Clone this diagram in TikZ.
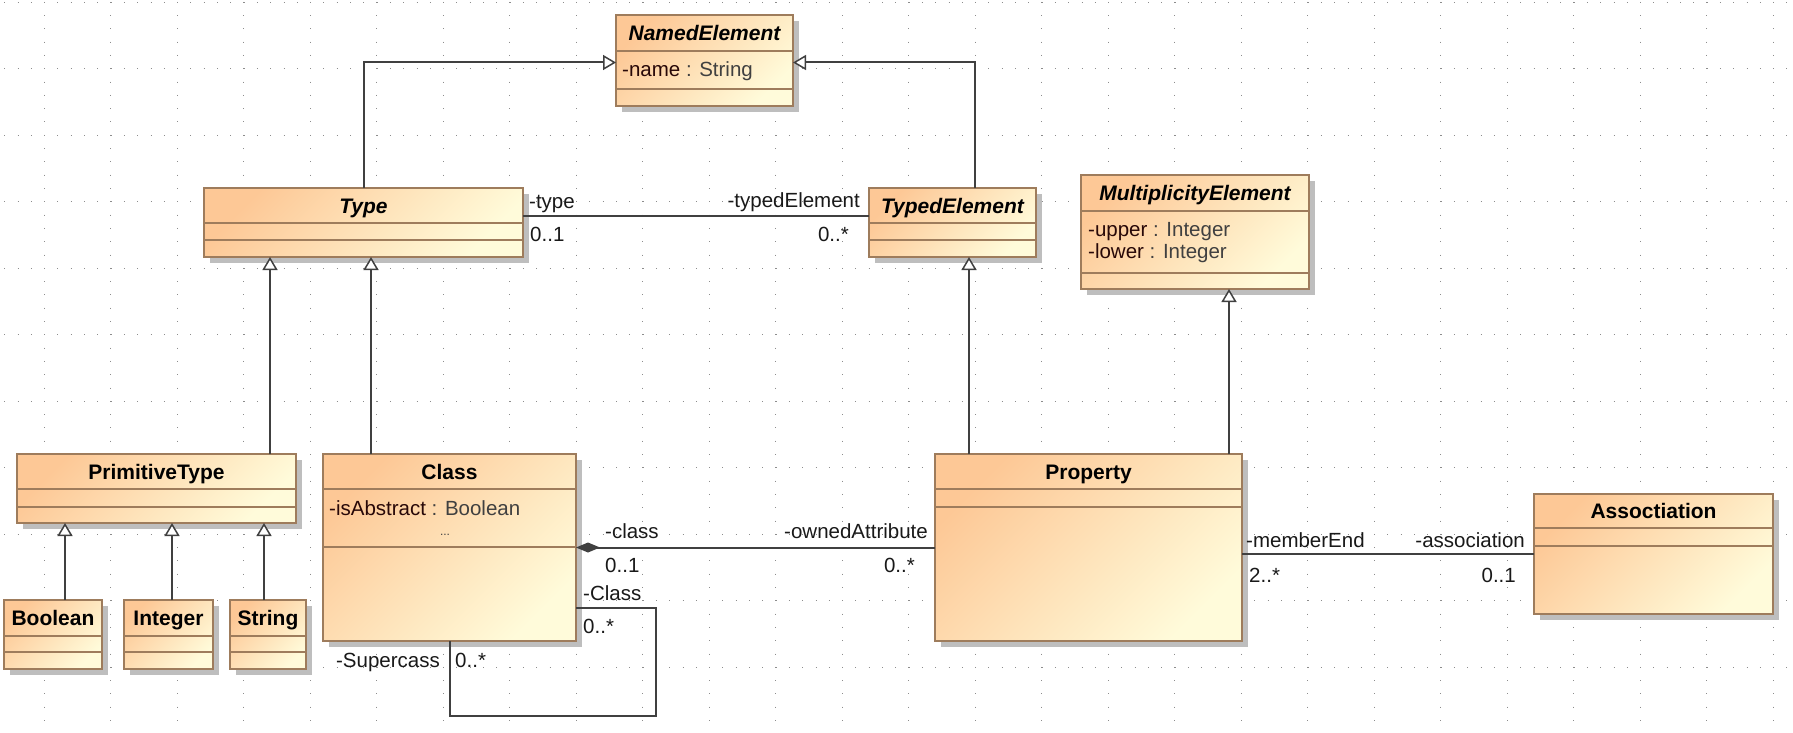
\documentclass[tikz,border=0pt]{standalone}
\usepackage{fontspec}
\setmainfont{Liberation Sans}
\usepackage{xcolor}
\usepackage{tikz}
\usetikzlibrary{arrows.meta, shadows}
\definecolor{umlorange}{RGB}{253, 200, 150}
\definecolor{umlmid}{RGB}{254, 228, 188}
\definecolor{umlyellow}{RGB}{255, 251, 218}
\definecolor{umlborder}{RGB}{158, 124, 92}
\definecolor{shadowgray}{RGB}{190, 190, 190}
\definecolor{linegray}{RGB}{64, 64, 64}
\definecolor{attrgray}{RGB}{64, 64, 64}
\definecolor{attrname}{RGB}{40, 8, 8}

\begin{document}
\begin{tikzpicture}[x=1pt, y=-1pt,
    umlbox/.style={draw=umlborder, line width=2pt, anchor=north west, inner sep=0pt, outer sep=0pt,
        top color=umlorange, middle color=umlmid, bottom color=umlyellow, shading angle=45,
        general shadow={fill=shadowgray, shadow xshift=6pt, shadow yshift=-6pt}},
    umlsep/.style={draw=umlborder, line width=2pt},
    umltitle/.style={anchor=base, inner sep=0pt, font=\fontsize{21}{25}\selectfont\bfseries},
    umlattr/.style={anchor=base west, inner sep=0pt, text=attrname, font=\fontsize{20.5}{24}\selectfont},
    rolelabel/.style={inner sep=0pt, text=black!90, font=\fontsize{20.5}{24}\selectfont},
    conn/.style={draw=linegray, line width=2pt},
    gen/.style={conn, -{Triangle[length=13pt, width=15pt, fill=white, line width=1.5pt]}},
    griddot/.style={draw=black!45, line width=1pt, dash pattern=on 1pt off 12.3pt}]

    % 背景网格
    \fill[white] (0,0) rectangle (1793,733);
    \useasboundingbox (0,0) rectangle (1793,733);
    \foreach \k in {0,...,10}
        \draw[griddot] (4.2,{2.3+66.5*\k}) -- (1793,{2.3+66.5*\k});
    \foreach \k in {0,...,26}
        \draw[griddot] ({44.3+66.5*\k},1.8) -- ({44.3+66.5*\k},733);

    % 定义类框
    \def\umlclass#1#2#3#4#5#6#7#8{
        \node[umlbox, minimum width=#4, minimum height=#5] (#1) at (#2,#3) {};
        \draw[umlsep] (#2,#6) -- ++(#4,0) (#2,#7) -- ++(#4,0);
        \node[umltitle] (#1-title) at ({#2+#4/2},{(#3+#6)/2+7.5}) {#8};
    }

    % 类
    \umlclass{named}{616}{15}{177}{91}{51}{89}{\itshape NamedElement}
    \umlclass{type}{204}{188}{319}{69}{223}{240}{\itshape Type}
    \umlclass{typed}{869}{188}{167}{69}{223}{240}{\itshape TypedElement}
    \umlclass{mult}{1081}{175}{228}{114}{211}{273}{\itshape MultiplicityElement}
    \umlclass{prim}{17}{454}{279}{69}{489}{507}{PrimitiveType}
    \umlclass{cls}{323}{454}{253}{187}{489}{547}{Class}
    \umlclass{prop}{935}{454}{307}{187}{489}{507}{Property}
    \umlclass{assoc}{1534}{494}{239}{120}{528}{546}{Assoctiation}
    \umlclass{bool}{4}{600}{98}{69}{636}{652}{Boolean}
    \umlclass{int}{124}{600}{89}{69}{636}{652}{Integer}
    \umlclass{str}{230}{600}{76}{69}{636}{652}{String}

    % 属性
    \node[umlattr] (named-attr) at (622,77) {-name \textcolor{attrgray}{: String}};
    \node[umlattr] (cls-attr) at (329,515) {-isAbstract \textcolor{attrgray}{: Boolean}};
    \node[anchor=base, inner sep=0pt, text=attrgray, font=\fontsize{12}{14}\selectfont] (cls-more) at (445,535) {...};
    \node[umlattr] (mult-upper) at (1088,236) {-upper \textcolor{attrgray}{: Integer}};
    \node[umlattr] (mult-lower) at (1088,258) {-lower \textcolor{attrgray}{: Integer}};

    % 泛化
    \draw[gen] (type.north) |- ([yshift=-2pt]named.west);
    \draw[gen] ([xshift=22.5pt]typed.north) |- ([yshift=-2pt]named.east);
    \draw[gen] ([xshift=113.5pt]prim.north) -- ([xshift=113.5pt]prim.north |- type.south);
    \draw[gen] ([xshift=-78.5pt]cls.north) -- ([xshift=-78.5pt]cls.north |- type.south);
    \draw[gen] ([xshift=-119.5pt]prop.north) -- ([xshift=-119.5pt]prop.north |- typed.south);
    \draw[gen] ([xshift=140.5pt]prop.north) -- ([xshift=140.5pt]prop.north |- mult.south);
    \foreach \n/\dx in {bool/12, int/3.5, str/-4}
        \draw[gen] ([xshift=\dx pt]\n.north) -- ([xshift=\dx pt]\n.north |- prim.south);

    % 关联
    \draw[conn] ([yshift=7pt]type.east) -- ([yshift=7pt]typed.west);
    \draw[conn, {Diamond[length=24pt, width=10pt]}-] (cls.east) -- (prop.west);
    \draw[conn] (prop.east |- assoc.west) -- (assoc.west);
    \draw[conn] ([yshift=-60.5pt]cls.east) -| ++(80,108) -| (cls.south);

    % 角色与多重性
    \node[rolelabel, anchor=base west] (type-role) at (529,208) {-type};
    \node[rolelabel, anchor=base west] (type-mult) at (530,241) {0..1};
    \node[rolelabel, anchor=base east] (typed-role) at (860,207) {-typedElement};
    \node[rolelabel, anchor=base east] (typed-mult) at (849,241) {0..*};
    \node[rolelabel, anchor=base west] (cls-role) at (605,538) {-class};
    \node[rolelabel, anchor=base west] (cls-mult) at (605,572) {0..1};
    \node[rolelabel, anchor=base east] (own-role) at (928,538) {-ownedAttribute};
    \node[rolelabel, anchor=base east] (own-mult) at (915,572) {0..*};
    \node[rolelabel, anchor=base west] (sub-role) at (583,600) {-Class};
    \node[rolelabel, anchor=base west] (sub-mult) at (583,633) {0..*};
    \node[rolelabel, anchor=base east] (super-role) at (440,667) {-Supercass};
    \node[rolelabel, anchor=base west] (super-mult) at (455,667) {0..*};
    \node[rolelabel, anchor=base west] (member-role) at (1246,547) {-memberEnd};
    \node[rolelabel, anchor=base west] (member-mult) at (1249,582) {2..*};
    \node[rolelabel, anchor=base east] (assoc-role) at (1525,547) {-association};
    \node[rolelabel, anchor=base east] (assoc-mult) at (1516,582) {0..1};
\end{tikzpicture}
\end{document}
